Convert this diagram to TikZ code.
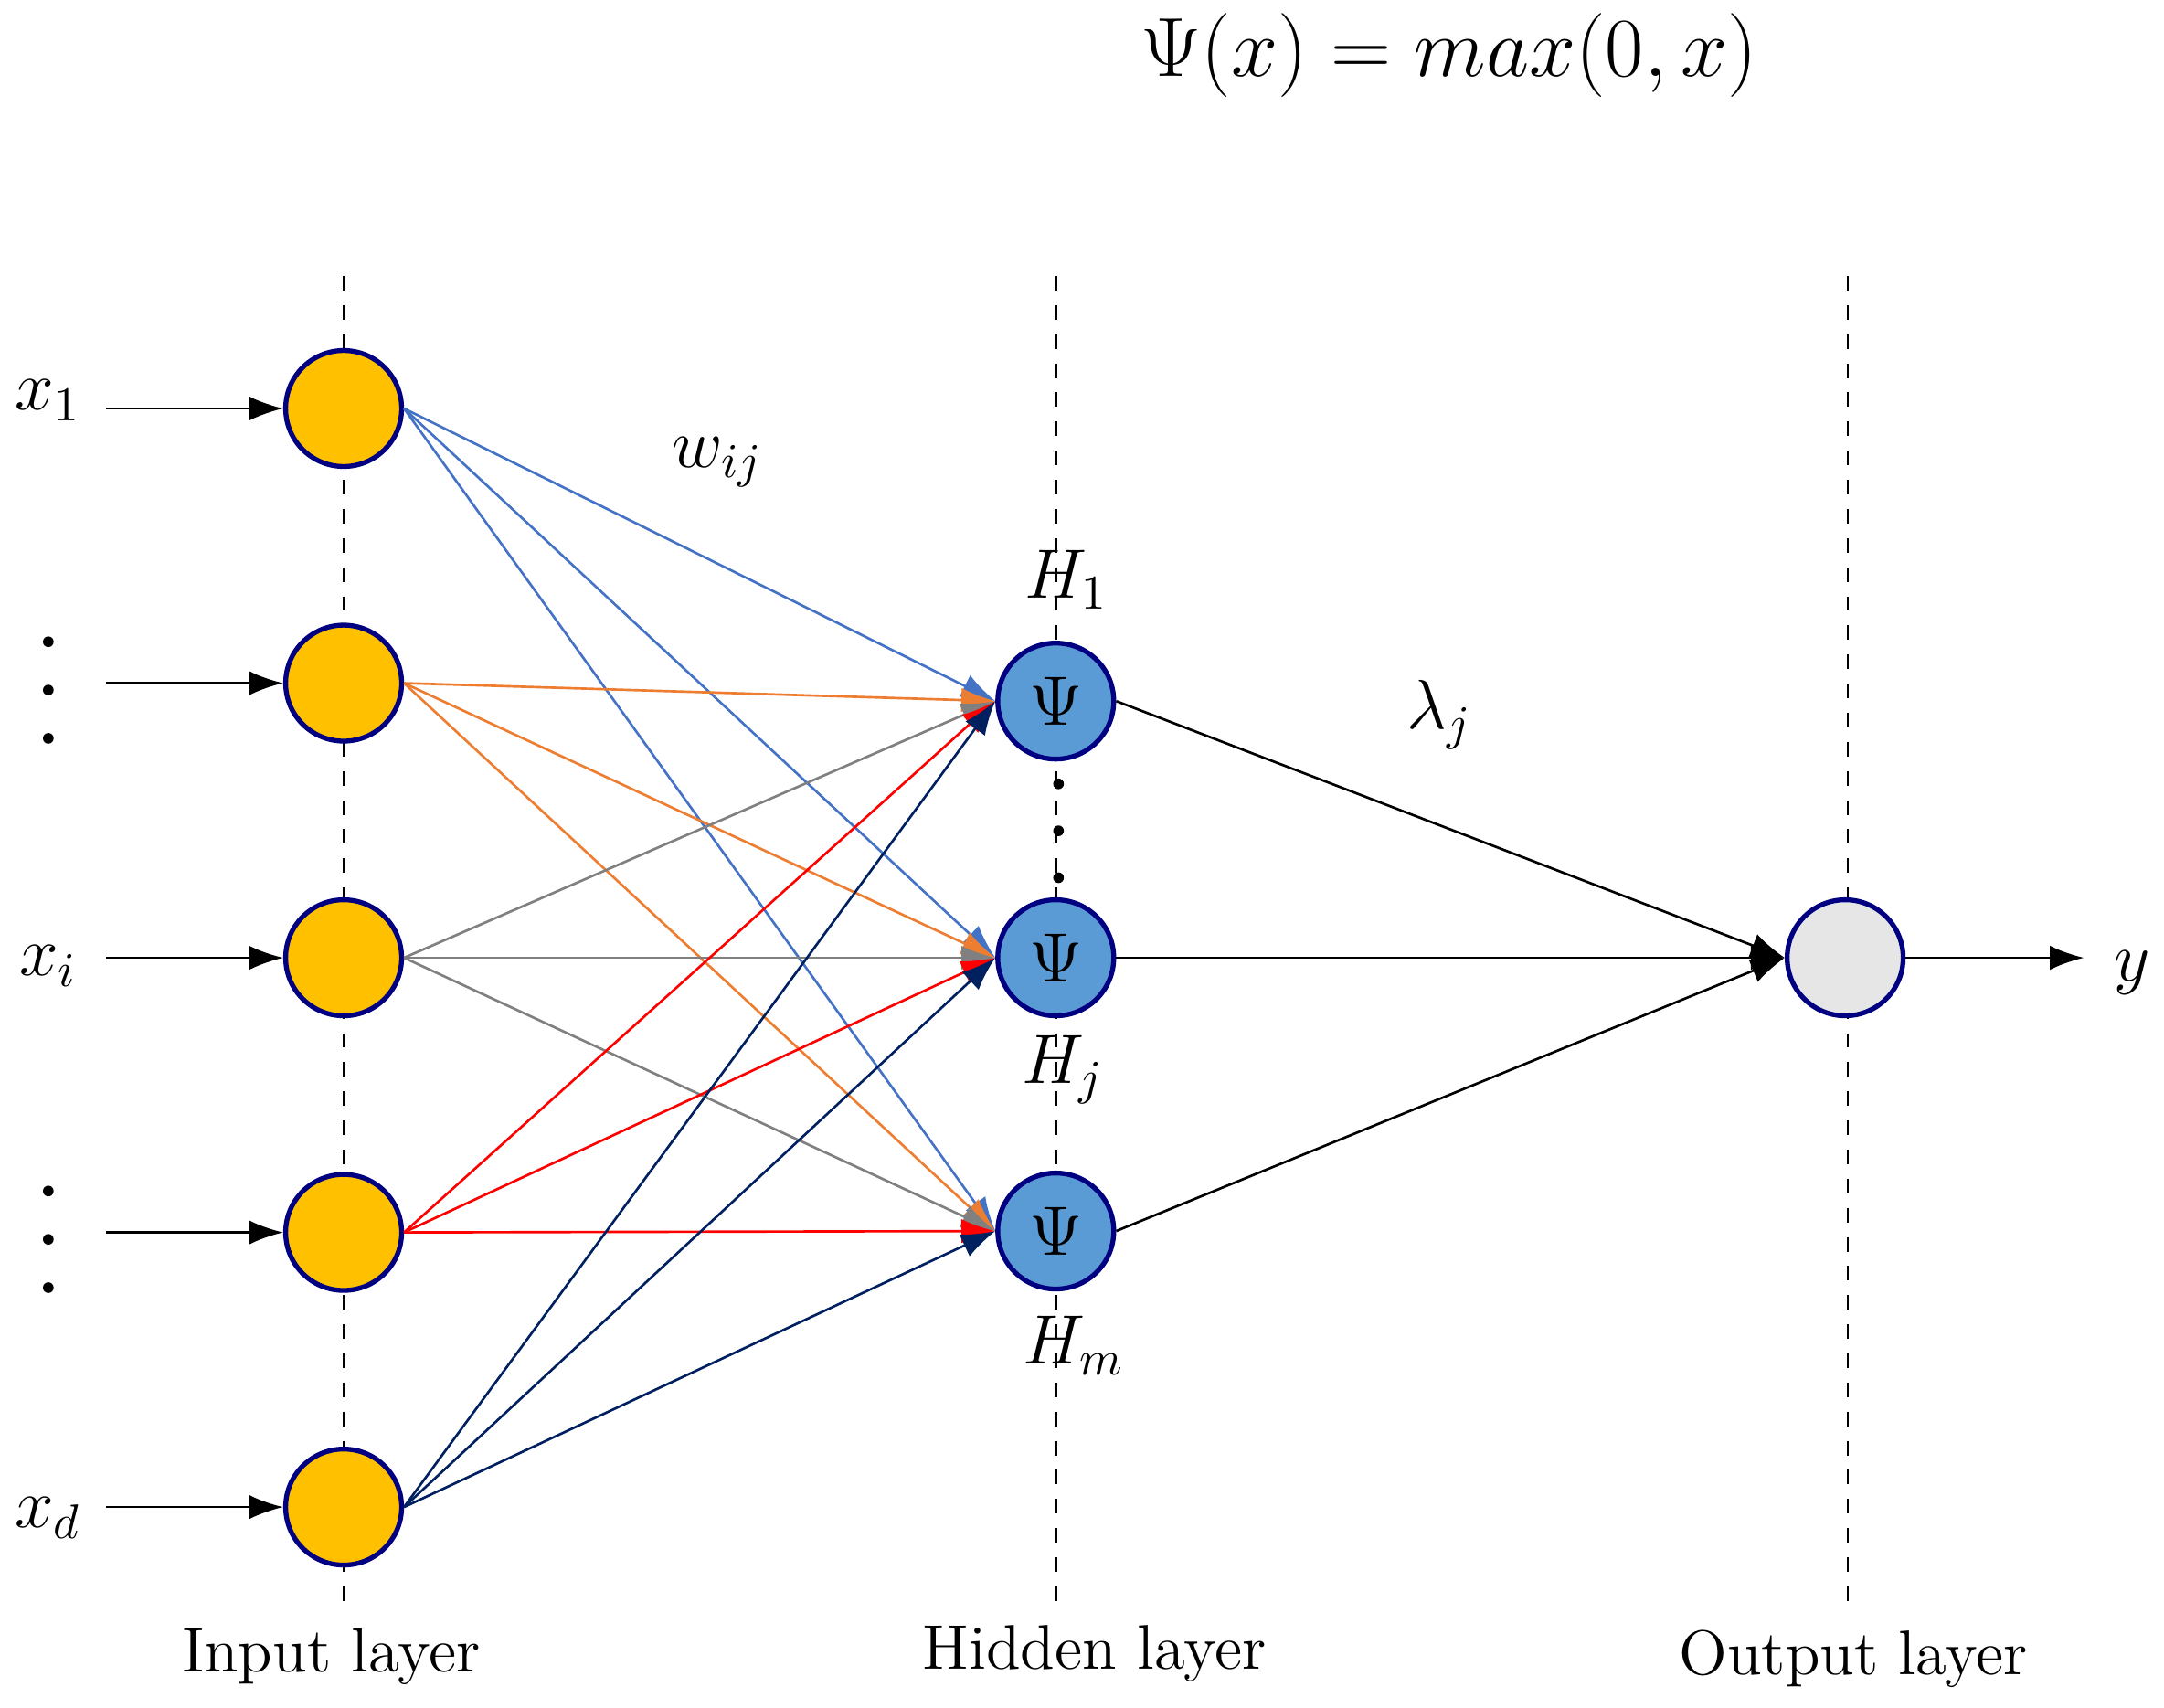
\documentclass[tikz,border=0pt]{standalone}
\usetikzlibrary{arrows.meta}
\begin{document}
\begin{tikzpicture}[x=0.01cm,y=-0.01cm,
  inp/.style={circle,draw=blue!50!black,line width=1pt,fill={rgb,255:red,255;green,192;blue,0},minimum size=0.84cm,inner sep=0},
  hid/.style={circle,draw=blue!50!black,line width=1pt,fill={rgb,255:red,91;green,155;blue,213},minimum size=0.84cm,inner sep=0,font=\Large},
  outn/.style={circle,draw=blue!50!black,line width=1pt,fill={rgb,255:red,231;green,230;blue,230},minimum size=0.84cm,inner sep=0},
  arr/.style={-{Latex[length=7pt,width=5pt]},line width=0.5pt},
  lbl/.style={font=\fontsize{14}{16}\selectfont},
  dot/.style={circle,fill=black,inner sep=0,minimum size=2.2pt},
  vd/.style={dashed,line width=0.5pt}]
\definecolor{cb}{RGB}{68,114,196}
\definecolor{co}{RGB}{237,125,49}
\definecolor{cg}{RGB}{128,128,128}
\definecolor{cr}{RGB}{255,0,0}
\definecolor{cn}{RGB}{0,32,96}
\useasboundingbox (0,0) rectangle (1568,1237);
\foreach \x/\n in {249/a,765/b,1339/c}{\coordinate (t\n) at (\x,200); \coordinate (b\n) at (\x,1160); \draw[vd] (t\n) -- (b\n);}
\foreach \y/\n in {296/1,495/2,694/3,893/4,1092/5}{
  \node[inp] (i\n) at (249,\y) {};
  \coordinate (s\n) at (77,\y);
  \draw[arr] (s\n) -- (i\n.west);}
\node[hid] (h1) at (765,508) {$\Psi$};
\node[hid] (h2) at (765,694) {$\Psi$};
\node[hid] (h3) at (765,892) {$\Psi$};
\node[outn] (o) at (1337,694) {};
\foreach \i/\c in {1/cb,2/co,3/cg,4/cr,5/cn}
  \foreach \h in {1,2,3}
    \draw[arr,\c] (i\i.east) -- (h\h.west);
\foreach \h in {1,2,3} \draw[arr] (h\h.east) -- (o.west);
\coordinate (yo) at (1510,694);
\draw[arr] (o.east) -- (yo);
\node[lbl] (lx1) at (35,290) {$x_1$};
\node[lbl] (lxi) at (35,700) {$x_i$};
\node[lbl] (lxd) at (35,1100) {$x_d$};
\foreach \y/\n in {465/a,500/b,535/c}{\node[dot] (da\n) at (35,\y) {};}
\foreach \y/\n in {863/a,898/b,933/c}{\node[dot] (db\n) at (35,\y) {};}
\foreach \y/\n in {568/a,602/b,636/c}{\node[dot] (dc\n) at (767,\y) {};}
\node[lbl] (w) at (520,335) {$w_{ij}$};
\node[lbl] (H1) at (773,420) {$H_1$};
\node[lbl] (Hj) at (770,775) {$H_j$};
\node[lbl] (Hm) at (778,975) {$H_m$};
\node[lbl] (lam) at (1043,518) {$\lambda_j$};
\node[lbl] (yy) at (1545,705) {$y$};
\node[font=\fontsize{18}{22}\selectfont] (psi) at (1050,40) {$\Psi(x)=max(0,x)$};
\node[font=\fontsize{13}{15}\selectfont] (L1) at (240,1200) {Input layer};
\node[font=\fontsize{13}{15}\selectfont] (L2) at (793,1198) {Hidden layer};
\node[font=\fontsize{13}{15}\selectfont] (L3) at (1343,1202) {Output layer};
\end{tikzpicture}
\end{document}
